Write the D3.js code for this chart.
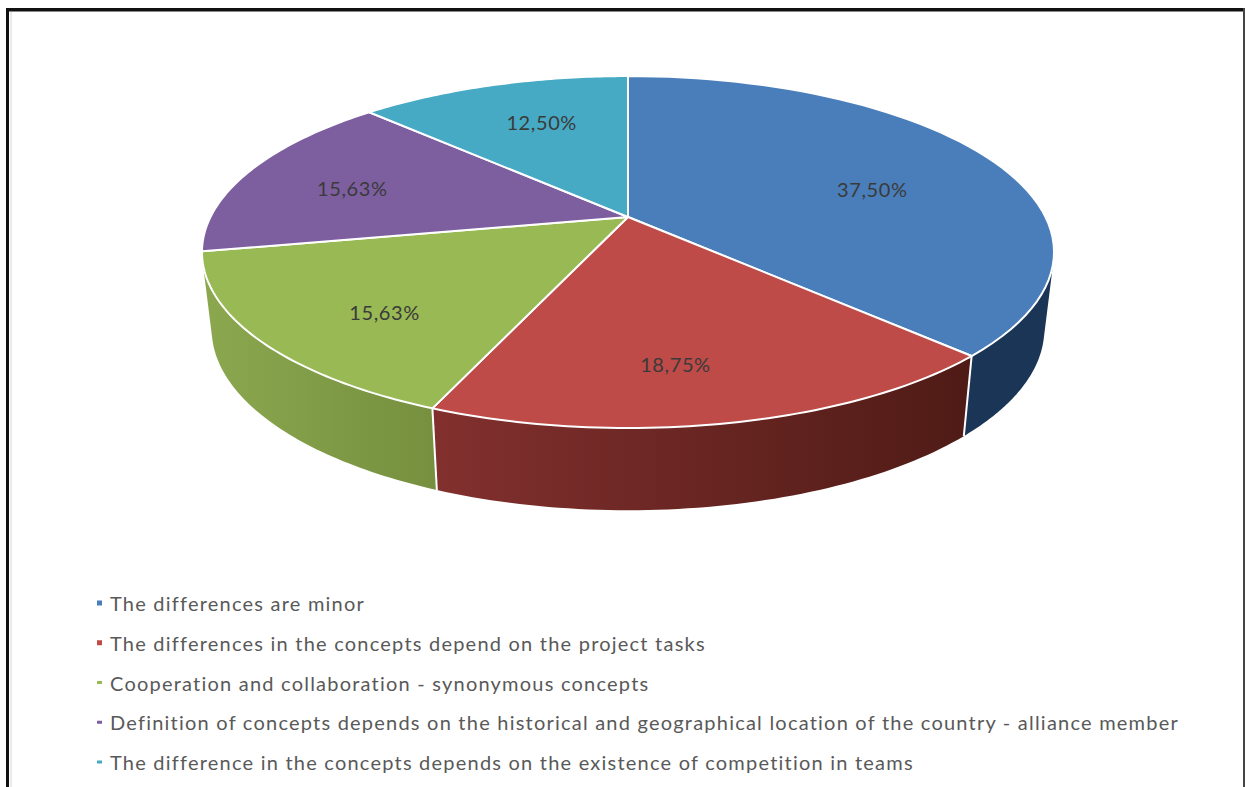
<!DOCTYPE html>
<html>
<head>
<meta charset="utf-8">
<title>Differences between cooperation and collaboration</title>
<script src="https://cdn.jsdelivr.net/npm/d3@7/dist/d3.min.js"></script>
<style>
  html, body { margin: 0; padding: 0; background: #fff; }
  svg { display: block; }
  text { font-family: Lato, "Open Sans", sans-serif; }
</style>
</head>
<body>
<svg id="chart" width="1245" height="787"></svg>
<script>
// Survey answers, in percent
const categories = [
  "The differences are minor",
  "The differences in the concepts depend on the project tasks",
  "Cooperation and collaboration - synonymous concepts",
  "Definition of concepts depends on the historical and geographical location of the country - alliance member",
  "The difference in the concepts depends on the existence of competition in teams"
];
const shares = [37.5, 18.75, 15.63, 15.63, 12.5];
const faceColors = ["#4a7ebb", "#be4b48", "#98b954", "#7d5fa0", "#46aac5"];
// Side wall shading, left colour then right colour
const wallStops = [
  ["#1b3556", "#1b3556"],
  ["#82302e", "#4f1b16"],
  ["#8ba84f", "#76903f"],
  ["#4a3760", "#4a3760"],
  ["#276a7c", "#276a7c"]
];

const svg = d3.select("#chart");
const width = 1245, height = 787;

// Frame: heavy top and left rules, thin right rule, open at the bottom
svg.append("rect").attr("x", 6).attr("y", 8).attr("width", width - 6).attr("height", 3.5).attr("fill", "#111");
svg.append("rect").attr("x", 6).attr("y", 8).attr("width", 3).attr("height", height - 8).attr("fill", "#111");
svg.append("rect").attr("x", 10.5).attr("y", 12).attr("width", 1).attr("height", height - 12).attr("fill", "#d8d8d8");
svg.append("rect").attr("x", 1243).attr("y", 8).attr("width", 2).attr("height", height - 8).attr("fill", "#444");

// Perspective view of a disc: the near edge is drawn larger than the far edge
const tilt = 0.199;
const makeRim = (cx, cy, rx, ry) => (angle, radius = 1) => {
  const X = radius * Math.sin(angle);
  const Y = -radius * Math.cos(angle);
  const w = 1 - tilt * Y;
  return [cx + rx * X / w, cy + ry * Y / w];
};
const topRim = makeRim(628, 217, 417.5, 169);
const bottomRim = makeRim(628, 293, 408, 174);

const arcs = d3.pie().sort(null).value(d => d).startAngle(0).endAngle(2 * Math.PI)(shares);
const line = d3.line();
const sweep = (rim, a0, a1) => d3.range(0, 61).map(i => rim(a0 + (a1 - a0) * i / 60));

// Only the part of the side wall between these angles faces the viewer
const wallFrom = 104 * Math.PI / 180;
const wallTo = 256 * Math.PI / 180;

const defs = svg.append("defs");
const wallSpans = arcs.map((d, i) => {
  const a0 = Math.max(d.startAngle, wallFrom);
  const a1 = Math.min(d.endAngle, wallTo);
  return a1 > a0 ? { i, a0, a1 } : null;
}).filter(Boolean);

wallSpans.forEach(({ i, a0, a1 }) => {
  const xs = [topRim(a0)[0], topRim(a1)[0]];
  const g = defs.append("linearGradient")
    .attr("id", "wall" + i)
    .attr("gradientUnits", "userSpaceOnUse")
    .attr("x1", d3.min(xs)).attr("x2", d3.max(xs))
    .attr("y1", 0).attr("y2", 0);
  g.append("stop").attr("offset", 0).attr("stop-color", wallStops[i][0]);
  g.append("stop").attr("offset", 1).attr("stop-color", wallStops[i][1]);
});

// Side walls
svg.append("g").selectAll("path").data(wallSpans).join("path")
  .attr("d", s => line(sweep(topRim, s.a0, s.a1).concat(sweep(bottomRim, s.a1, s.a0))) + "Z")
  .attr("fill", s => `url(#wall${s.i})`);

// White seams where two wall sections meet
svg.append("g").selectAll("line")
  .data(wallSpans.slice(1))
  .join("line")
  .attr("x1", s => topRim(s.a0)[0]).attr("y1", s => topRim(s.a0)[1])
  .attr("x2", s => bottomRim(s.a0)[0]).attr("y2", s => bottomRim(s.a0)[1])
  .attr("stroke", "#fff").attr("stroke-width", 2);

// Top face slices
svg.append("g").selectAll("path").data(arcs).join("path")
  .attr("d", d => line([topRim(0, 0)].concat(sweep(topRim, d.startAngle, d.endAngle))) + "Z")
  .attr("fill", (d, i) => faceColors[i])
  .attr("stroke", "#fff")
  .attr("stroke-width", 2)
  .attr("stroke-linejoin", "round");

// Value labels, decimal comma, nudged from the slice mid-angle
const fmt = d3.formatLocale({ decimal: ",", thousands: " ", grouping: [3], currency: ["", ""] }).format(".2f");
const labelNudge = [[23, 9], [-8, 34], [-34, 25], [-44, -1], [0, -11]];
svg.append("g").selectAll("text").data(arcs).join("text")
  .attr("transform", (d, i) => {
    const p = topRim((d.startAngle + d.endAngle) / 2, 0.6);
    return `translate(${p[0] + labelNudge[i][0]},${p[1] + labelNudge[i][1]})`;
  })
  .attr("text-anchor", "middle")
  .attr("dominant-baseline", "central")
  .attr("font-size", 20)
  .attr("letter-spacing", 0.6)
  .attr("fill", "#3a3a3a")
  .text(d => fmt(d.value) + "%");

// Legend
const legendY = d3.scalePoint().domain(categories).range([603, 762]);
const legend = svg.append("g").selectAll("g").data(categories).join("g")
  .attr("transform", d => `translate(0,${legendY(d)})`);
legend.append("rect")
  .attr("x", 97)
  .attr("y", (d, i) => i < 2 ? -2.5 : -1.5)
  .attr("width", 5)
  .attr("height", (d, i) => i < 2 ? 5 : 3)
  .attr("fill", (d, i) => faceColors[i]);
legend.append("text")
  .attr("x", 110)
  .attr("dominant-baseline", "central")
  .attr("font-size", 20)
  .attr("letter-spacing", 1.22)
  .attr("fill", "#595959")
  .text(d => d);
</script>
</body>
</html>
